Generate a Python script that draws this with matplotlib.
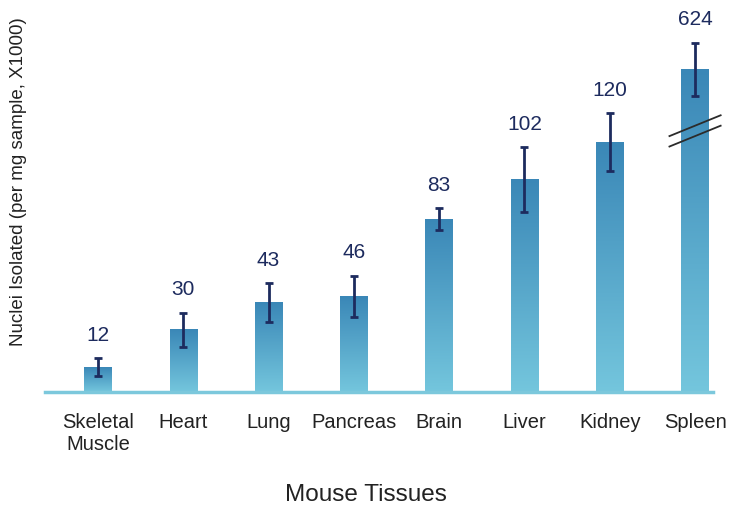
import numpy as np
import matplotlib.pyplot as plt
from matplotlib.colors import LinearSegmentedColormap

plt.rcParams['font.family'] = ['Liberation Sans', 'DejaVu Sans']

tissues = ['Skeletal\nMuscle', 'Heart', 'Lung', 'Pancreas', 'Brain', 'Liver', 'Kidney', 'Spleen']
values = [12, 30, 43, 46, 83, 102, 120, 624]
# spleen is drawn on a broken axis, so its bar height is truncated
heights = [12, 30, 43, 46, 83, 102, 120, 155]
errors = [4.3, 8.2, 9.4, 9.9, 5.3, 15.6, 14.0, 12.7]

navy = '#1d2b5e'
grad = LinearSegmentedColormap.from_list('bar', ['#74c6dd', '#3a87b7'])

fig = plt.figure(figsize=(7.32, 5.06), dpi=100)
ax = fig.add_axes([0.0615, 0.223, 0.9125, 0.757])

x = np.arange(len(tissues))
width = 0.32
ymax = 184

for xi, h in zip(x, heights):
    g = np.linspace(0, 1, 256).reshape(-1, 1)
    ax.imshow(g, cmap=grad, origin='lower', aspect='auto',
              extent=[xi - width / 2, xi + width / 2, 0, h], zorder=2)

ax.errorbar(x, heights, yerr=errors, fmt='none', ecolor=navy, elinewidth=2,
            capsize=2.8, capthick=2, zorder=3)

for xi, h, e, v in zip(x, heights, errors, values):
    ax.text(xi, h + e + 7, str(v), ha='center', va='bottom', fontsize=15, color=navy)

# break marks on the spleen bar
for dy in (0, -5):
    ax.plot([x[-1] - 0.3, x[-1] + 0.3], [123 + dy, 133 + dy], color='#2b2b2b', lw=1.3,
            zorder=4, clip_on=False)

ax.set_xlim(-0.62, 7.21)
ax.set_ylim(0, ymax)
for s in ['top', 'right', 'left']:
    ax.spines[s].set_visible(False)
ax.spines['bottom'].set_color('#7cc8dc')
ax.spines['bottom'].set_linewidth(2.5)
ax.set_yticks([])
ax.set_xticks(x)
ax.set_xticklabels(tissues, fontsize=14.5, color='#222222', linespacing=1.25)
ax.tick_params(axis='x', length=0, pad=14)

fig.text(0.5, 0.0, 'Mouse Tissues', ha='center', va='bottom', fontsize=17.5, color='#222222')
fig.text(0.025, 0.642, 'Nuclei Isolated (per mg sample, X1000)', rotation=90,
         ha='center', va='center', fontsize=13.5, color='#222222')

fig.savefig('out.png', dpi=100)
